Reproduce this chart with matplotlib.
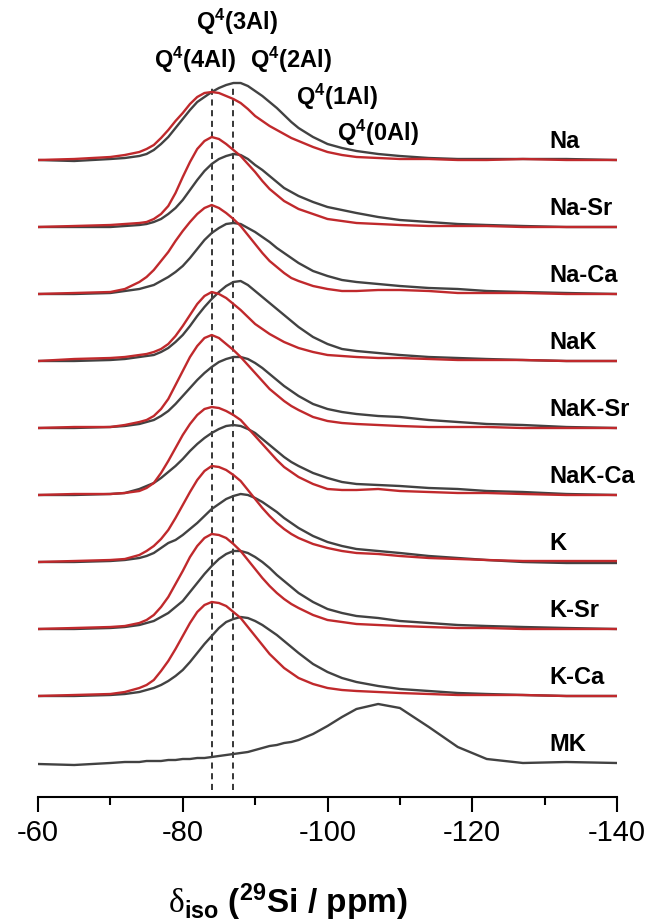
import numpy as np
import matplotlib.pyplot as plt

plt.rcParams['font.family'] = ['Liberation Sans', 'DejaVu Sans']
plt.rcParams['mathtext.fontset'] = 'custom'
plt.rcParams['mathtext.rm'] = 'Liberation Serif'
plt.rcParams['mathtext.bf'] = 'Liberation Sans:bold'
plt.rcParams['mathtext.it'] = 'Liberation Sans:italic'
plt.rcParams['axes.unicode_minus'] = False

# Chemical shift grid (ppm) on which the spectra were read
ppm = [-60, -65, -70, -72, -74, -75, -76, -77, -78, -79, -80, -81, -82, -83, -84,
       -85, -86, -87, -88, -89, -90, -91, -92, -93, -94, -95, -96, -98, -100,
       -102, -104, -107, -110, -114, -118, -122, -127, -133, -140]

# Intensities (arbitrary units), red and grey traces
na_red = [0, 1, 3, 5, 8, 11, 15, 22, 30, 39, 47, 56, 63, 67, 68, 67, 64, 61, 57, 51,
          44, 39, 34, 30, 26, 22, 19, 13, 8, 5, 3, 2, 1, 1, 0, 0, 1, 0, 0]
na_gray = [0, -1, 1, 2, 4, 6, 10, 16, 23, 32, 41, 50, 58, 63, 68, 72, 75, 77, 77, 74,
           69, 64, 58, 52, 45, 38, 32, 23, 16, 12, 9, 6, 4, 2, 1, 1, 1, 1, 0]
nasr_red = [0, 1, 2, 3, 4, 5, 8, 13, 21, 34, 50, 65, 78, 86, 90, 88, 83, 77, 71, 63,
            55, 46, 38, 32, 26, 22, 18, 13, 8, 6, 4, 3, 2, 1, 1, 1, 0, 0, 0]
nasr_gray = [0, 0, 0, 1, 2, 3, 5, 8, 13, 19, 27, 37, 47, 56, 63, 68, 71, 73, 72, 68,
             62, 57, 51, 45, 39, 35, 31, 25, 20, 17, 14, 10, 7, 5, 3, 2, 1, 0, 0]
naca_red = [0, 1, 2, 5, 12, 17, 24, 33, 42, 53, 63, 72, 80, 86, 89, 86, 81, 75, 68, 59,
            50, 41, 33, 27, 21, 16, 13, 8, 5, 3, 3, 4, 4, 3, 1, 1, 1, 0, 0]
naca_gray = [0, 0, 1, 3, 5, 7, 9, 13, 17, 22, 28, 36, 45, 54, 61, 66, 70, 71, 70, 66,
             62, 57, 52, 46, 41, 36, 31, 23, 18, 14, 12, 10, 8, 6, 5, 3, 2, 1, 0]
nak_red = [0, 2, 3, 4, 6, 7, 9, 12, 17, 25, 35, 46, 57, 65, 69, 67, 63, 57, 51, 44,
           37, 32, 27, 23, 19, 16, 13, 9, 6, 5, 4, 3, 3, 2, 1, 1, 1, 0, 0]
nak_gray = [0, 0, 1, 2, 4, 5, 6, 9, 13, 19, 26, 35, 45, 54, 62, 69, 75, 79, 80, 76,
            70, 64, 58, 52, 46, 40, 34, 24, 17, 12, 10, 8, 6, 4, 3, 2, 1, 0, 0]
naksr_red = [0, 1, 1, 3, 6, 8, 12, 19, 29, 43, 57, 71, 82, 90, 93, 90, 84, 78, 71, 63,
             55, 47, 39, 33, 27, 22, 18, 11, 7, 5, 4, 3, 2, 1, 1, 1, 0, 0, 0]
naksr_gray = [0, 0, 1, 2, 4, 6, 8, 12, 17, 24, 32, 40, 48, 55, 61, 66, 69, 71, 71, 69,
              65, 60, 54, 48, 42, 37, 32, 24, 19, 16, 14, 12, 11, 8, 6, 4, 3, 1, 0]
nakca_red = [0, 1, 1, 2, 4, 7, 12, 22, 34, 47, 60, 71, 80, 86, 88, 87, 84, 80, 75, 67,
             59, 51, 43, 35, 28, 23, 18, 11, 6, 5, 5, 6, 4, 3, 2, 2, 1, 0, 0]
nakca_gray = [0, 0, 1, 2, 6, 9, 12, 17, 23, 29, 36, 44, 51, 57, 62, 66, 69, 70, 69, 66,
              62, 56, 50, 44, 38, 33, 29, 22, 17, 13, 11, 10, 9, 7, 6, 4, 3, 1, 0]
k_red = [0, 1, 2, 3, 7, 11, 16, 23, 32, 44, 57, 70, 82, 91, 96, 95, 92, 87, 81, 72,
         63, 54, 46, 39, 33, 28, 24, 18, 14, 11, 9, 8, 6, 4, 3, 2, 1, 1, 1]
k_gray = [0, 0, 1, 2, 4, 6, 9, 14, 19, 22, 27, 33, 39, 46, 53, 58, 63, 66, 68, 67,
          64, 60, 55, 50, 44, 39, 34, 26, 20, 16, 13, 11, 9, 6, 4, 2, 0, -1, -1]
ksr_red = [0, 1, 2, 3, 6, 9, 14, 22, 32, 45, 58, 72, 83, 91, 95, 94, 91, 85, 78, 69,
           60, 51, 43, 36, 30, 25, 21, 14, 9, 7, 5, 4, 3, 2, 1, 1, 0, 0, 0]
ksr_gray = [0, 0, 1, 2, 4, 6, 8, 12, 16, 22, 28, 37, 46, 55, 63, 70, 75, 78, 78, 76,
            72, 67, 61, 54, 48, 42, 36, 27, 20, 16, 13, 11, 8, 6, 4, 3, 2, 1, 0]
kca_red = [0, 1, 2, 4, 8, 11, 16, 25, 35, 47, 60, 73, 84, 91, 94, 93, 90, 84, 78, 69,
           60, 51, 42, 35, 28, 23, 18, 12, 8, 6, 5, 4, 3, 2, 1, 1, 1, 0, 0]
kca_gray = [0, 0, 1, 2, 4, 6, 8, 11, 15, 20, 26, 34, 43, 52, 60, 68, 74, 77, 79, 78,
            75, 71, 66, 61, 55, 49, 43, 32, 24, 18, 14, 10, 7, 5, 3, 2, 1, 0, 0]
mk_gray = [-1, -2, 0, 1, 1, 2, 2, 2, 3, 3, 4, 4, 5, 5, 6, 7, 8, 9, 10, 11,
           13, 15, 17, 18, 20, 21, 23, 29, 37, 46, 54, 59, 55, 36, 16, 4, 0, 1, 0]

labels = ['Na', 'Na-Sr', 'Na-Ca', 'NaK', 'NaK-Sr', 'NaK-Ca', 'K', 'K-Sr', 'K-Ca', 'MK']
red_series = [na_red, nasr_red, naca_red, nak_red, naksr_red, nakca_red, k_red, ksr_red, kca_red, None]
gray_series = [na_gray, nasr_gray, naca_gray, nak_gray, naksr_gray, nakca_gray, k_gray, ksr_gray, kca_gray, mk_gray]

# Q4(nAl) site annotations
q_labels = ['Q$^\\mathbf{4}$(3Al)', 'Q$^\\mathbf{4}$(4Al)', 'Q$^\\mathbf{4}$(2Al)',
            'Q$^\\mathbf{4}$(1Al)', 'Q$^\\mathbf{4}$(0Al)']
q_pos = [(-87.5, 775), (-81.7, 737), (-95.0, 737), (-101.3, 700), (-107.0, 664)]

fig = plt.figure(figsize=(6.56, 9.22), dpi=100)
ax = fig.add_axes([38 / 656, 125 / 922, 579 / 656, 797 / 922])

red = '#c0292c'
gray = '#424242'
step = 67
base = 34

for i, name in enumerate(labels):
    off = base + step * (len(labels) - 1 - i)
    ax.plot(ppm, np.array(gray_series[i]) + off, color=gray, lw=1.7, zorder=3)
    if red_series[i] is not None:
        ax.plot(ppm, np.array(red_series[i]) + off, color=red, lw=1.7, zorder=4)
    ax.text(-130.6, off + 19, name, fontsize=17, fontweight='bold',
            ha='left', va='center')

# Reference lines
for x0 in [-84, -87]:
    ax.plot([x0, x0], [7, 709], color='black', lw=1.1, ls=(0, (4, 3)), zorder=2)

for t, (x, y) in zip(q_labels, q_pos):
    ax.text(x, y, t, fontsize=17, fontweight='bold', ha='center', va='center')

ax.set_xlim(-60, -140)
ax.set_ylim(0, 797)
ax.set_xticks([-60, -80, -100, -120, -140])
ax.set_xticks([-70, -90, -110, -130], minor=True)
ax.tick_params(axis='x', which='major', length=11, width=1.5, labelsize=21, pad=5)
ax.tick_params(axis='x', which='minor', length=6, width=1.5)
ax.set_yticks([])
for s in ['left', 'right', 'top']:
    ax.spines[s].set_visible(False)
ax.spines['bottom'].set_linewidth(1.5)

fig.text(288 / 656, 9 / 922, '$\\mathrm{\\delta}_\\mathbf{iso}$ ($^\\mathbf{29}$Si / ppm)',
         fontsize=24, fontweight='bold', ha='center', va='baseline')

plt.savefig('out.png', dpi=100)
